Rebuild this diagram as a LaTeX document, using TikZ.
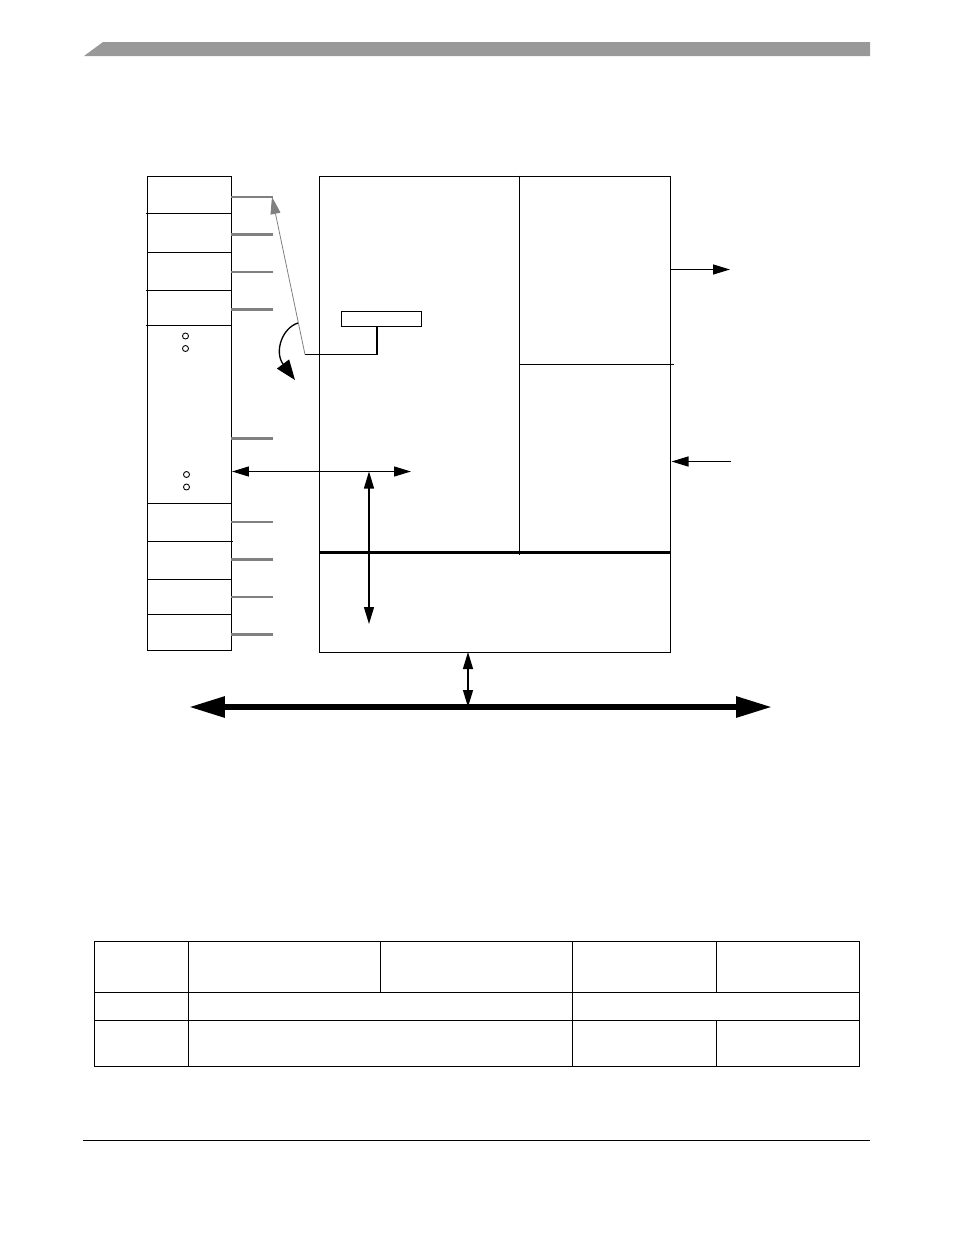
\documentclass[tikz,border=0pt]{standalone}
\usepackage{tikz}
\usetikzlibrary{arrows.meta}

\tikzset{
  ln/.style={black,line width=0.75pt},
  heavyln/.style={black,line width=1.3pt},
  gridln/.style={black,line width=0.85pt},
  stub/.style={gray,line width=0.95pt},
  heavystub/.style={gray,line width=1.7pt},
  hole/.style={draw,circle,line width=0.5pt,minimum size=0.12cm,inner sep=0pt},
  block/.style={draw,ln,anchor=north west,inner sep=0pt},
  ar/.style={ln,-{Triangle[length=0.34cm,width=0.2cm]}},
  biar/.style={ln,{Triangle[length=0.34cm,width=0.2cm]}-{Triangle[length=0.34cm,width=0.2cm]}},
  bus/.style={black,line width=3.4pt,{Triangle[length=0.72cm,width=0.4cm]}-{Triangle[length=0.72cm,width=0.4cm]}}
}

\begin{document}
\begin{tikzpicture}[x=0.02cm,y=-0.02cm]
    \useasboundingbox[fill=white] (0,0) rectangle (954,1235);
    % page header and footer
    \fill[black!40] (84,56) -- (103,42) -- (870,42) -- (870,56) -- cycle;
    \draw[ln] (83,1140.5) -- (870,1140.5);

    % table column stack
    \node[block,minimum width=1.68cm,minimum height=9.48cm] (stack) at (147,176) {};
    \foreach \y/\xa/\xb in {213.5/146/231,252.5/147/231,290.5/146/231,325.5/146/231,503.5/147/231,541.5/147/233,579.5/147/231,614.5/147/231}
      \draw[ln] (\xa,\y) -- (\xb,\y);
    \foreach \y in {197,272,522,597}
      \draw[stub] (231,\y) -- (273,\y);
    \foreach \y in {234,309.5,438,559,634.5}
      \draw[heavystub] (231,\y) -- (273,\y);
    \node[hole] (holea) at (185.5,336) {};
    \node[hole] (holeb) at (185.5,348.5) {};
    \node[hole] (holec) at (186.5,474.5) {};
    \node[hole] (holed) at (186.5,487) {};

    % main block
    \node[block,minimum width=7.02cm,minimum height=9.53cm] (main) at (319,175.5) {};
    \draw[ln] (519.5,175.5) -- (519.5,555);
    \draw[ln] (519.5,364.5) -- (674,364.5);
    \draw[heavyln] (319,552.5) -- (670,552.5);

    % pointer
    \node[block,minimum width=1.6cm,minimum height=0.31cm] (tag) at (341,310.5) {};
    \coordinate (tagfoot) at (377,326);
    \coordinate (elbow) at (377,354.5);
    \coordinate (pivot) at (305,354.5);
    \coordinate (ptrtip) at (272,197);
    \draw[heavyln] (tagfoot) -- (elbow);
    \draw[ln] (elbow) -- (pivot);
    \draw[gray,line width=0.45pt,-{Triangle[length=0.34cm,width=0.2cm,fill=gray]}] (pivot) -- (ptrtip);
    \draw[ln,-{Triangle[length=0.4cm,width=0.3cm]}] (298,323) .. controls (282,328) and (274,352) .. (295,380);

    % data paths
    \coordinate (readl) at (232,471.5);
    \coordinate (readr) at (411,471.5);
    \coordinate (readv) at (369,471.5);
    \coordinate (readd) at (369,624);
    \draw[biar] (readl) -- (readr);
    \draw[biar] (readv) -- (readd);
    \coordinate (outa) at (670,269.5);
    \coordinate (outb) at (730,269.5);
    \coordinate (ina) at (730.5,461.5);
    \coordinate (inb) at (671.5,461.5);
    \draw[ar] (outa) -- (outb);
    \draw[ar] (ina) -- (inb);

    % system bus
    \coordinate (busl) at (189,707);
    \coordinate (busr) at (772,707);
    \coordinate (busm) at (468,707);
    \coordinate (mainb) at (468,652);
    \draw[bus] (busl) -- (busr);
    \draw[biar] (mainb) -- (busm);

    % table
    \draw[gridln] (94.5,941.5) rectangle (859.5,1066.5);
    \foreach \y in {992.5,1020.5}
      \draw[gridln] (94.5,\y) -- (859.5,\y);
    \draw[gridln] (188.5,941.5) -- (188.5,1066.5);
    \draw[gridln] (572.5,941.5) -- (572.5,1066.5);
    \draw[gridln] (380.5,941.5) -- (380.5,992.5);
    \draw[gridln] (716.5,941.5) -- (716.5,992.5);
    \draw[gridln] (716.5,1020.5) -- (716.5,1066.5);
  \end{tikzpicture}
\end{document}
